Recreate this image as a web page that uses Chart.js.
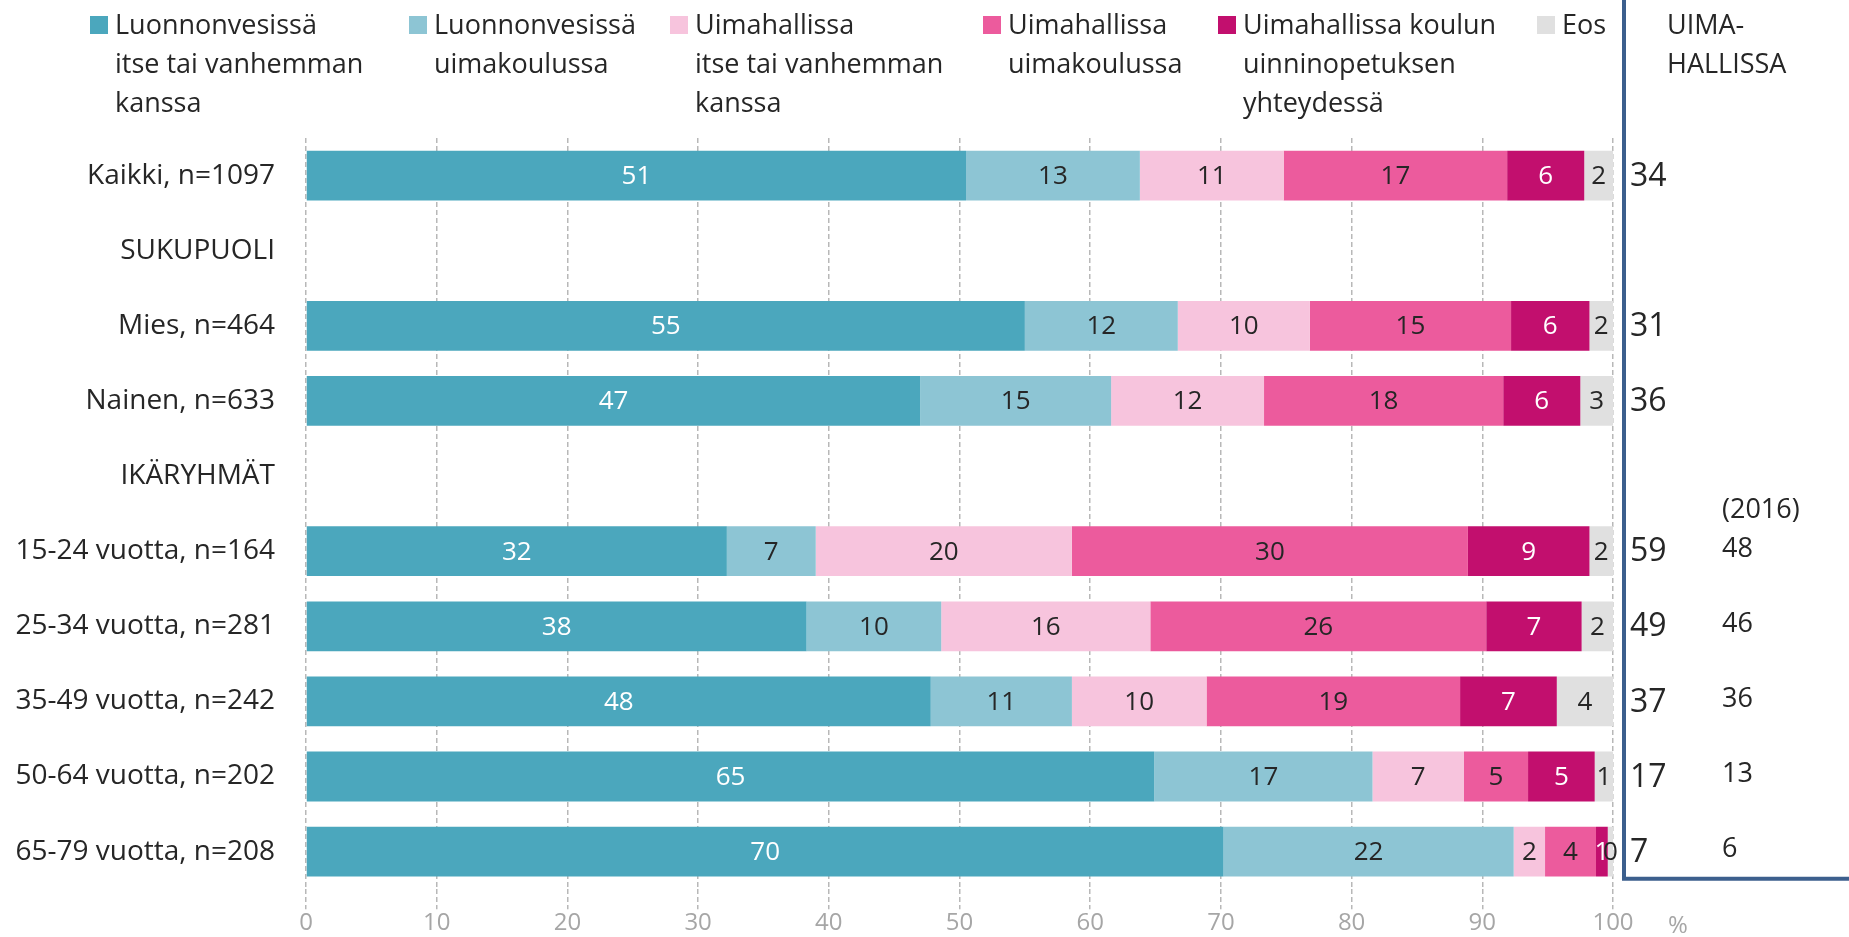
<!DOCTYPE html>
<html lang="fi">
<head>
<meta charset="utf-8">
<title>Uimataidon oppiminen</title>
<script src="https://cdn.jsdelivr.net/npm/chart.js@4.4.1/dist/chart.umd.min.js"></script>
<style>
  html, body { margin: 0; padding: 0; background: #FFFFFF; overflow: hidden; }
  #wrap { width: 1849px; height: 937px; }
  #swim-chart { display: block; }
</style>
</head>
<body>
<div id="wrap"><canvas id="swim-chart" width="1849" height="937"></canvas></div>
<script>
/* ============================================================
   Missä uimataito opittu — 100 % stacked horizontal bars
   ------------------------------------------------------------
   Six segments per row, two header rows (SUKUPUOLI, IKÄRYHMÄT)
   with no bars. Right of the framed line: share learned in a
   swimming hall, plus the 2016 comparison for age groups.
   ============================================================ */
(function () {
  'use strict';

  // ---- Data -----------------------------------------------
  const CATEGORIES = [
    'Kaikki, n=1097', 'SUKUPUOLI', 'Mies, n=464', 'Nainen, n=633', 'IKÄRYHMÄT',
    '15-24 vuotta, n=164', '25-34 vuotta, n=281', '35-49 vuotta, n=242',
    '50-64 vuotta, n=202', '65-79 vuotta, n=208'
  ];

  const SERIES_NAMES = [
    ['Luonnonvesissä', 'itse tai vanhemman', 'kanssa'],
    ['Luonnonvesissä', 'uimakoulussa'],
    ['Uimahallissa', 'itse tai vanhemman', 'kanssa'],
    ['Uimahallissa', 'uimakoulussa'],
    ['Uimahallissa koulun', 'uinninopetuksen', 'yhteydessä'],
    ['Eos']
  ];

  const NATURE_SELF   = [50.5, null, 55.0, 47.0, null, 32.2, 38.3, 47.8, 64.9, 70.2];
  const NATURE_SCHOOL = [13.3, null, 11.7, 14.6, null,  6.8, 10.3, 10.8, 16.7, 22.2];
  const HALL_SELF     = [11.0, null, 10.1, 11.7, null, 19.6, 16.0, 10.3,  7.0,  2.4];
  const HALL_SCHOOL   = [17.1, null, 15.4, 18.3, null, 30.3, 25.7, 19.4,  4.9,  3.9];
  const HALL_LESSONS  = [ 5.9, null,  6.0,  5.9, null,  9.3,  7.3,  7.4,  5.1,  0.9];
  const DONT_KNOW     = [ 2.2, null,  1.8,  2.5, null,  1.8,  2.4,  4.3,  1.4,  0.4];

  const HALL_TOTAL    = [34, null, 31, 36, null, 59, 49, 37, 17, 7];
  const HALL_2016     = [null, null, null, null, null, 48, 46, 36, 13, 6];

  const X_TICKS = [0, 10, 20, 30, 40, 50, 60, 70, 80, 90, 100];
  const SIDE_TITLE = ['UIMA-', 'HALLISSA'];
  const YEAR_TITLE = '(2016)';
  const UNIT = '%';

  // ---- Styles ---------------------------------------------
  const FONT = "'Open Sans', 'Noto Sans', sans-serif";
  const TEXT = '#262626';
  const AXIS_GRAY = '#A6A6A6';
  const GRID_GRAY = '#B8B8B8';
  const FRAME = '#3C5F8D';
  const COLORS = ['#4BA7BD', '#8DC5D4', '#F7C4DD', '#EC5B9D', '#C20F6E', '#E0E0E0'];
  const LABEL_COLORS = ['#FFFFFF', TEXT, TEXT, TEXT, '#FFFFFF', TEXT];
  const LEGEND_BOX_X = [90, 409, 670, 983, 1218, 1537];

  const seriesValues = [NATURE_SELF, NATURE_SCHOOL, HALL_SELF, HALL_SCHOOL, HALL_LESSONS, DONT_KNOW];

  Chart.defaults.font.family = FONT;
  Chart.defaults.color = TEXT;

  // ---- Custom drawing: legend, segment labels, side column --
  const overlay = {
    id: 'overlay',
    afterDatasetsDraw(chart) {
      const ctx = chart.ctx;
      ctx.save();
      ctx.font = '26px ' + FONT;
      ctx.textAlign = 'center';
      ctx.textBaseline = 'middle';
      chart.data.datasets.forEach((ds, di) => {
        const meta = chart.getDatasetMeta(di);
        meta.data.forEach((bar, i) => {
          const v = ds.data[i];
          if (v === null || v === undefined) return;
          ctx.fillStyle = LABEL_COLORS[di];
          ctx.fillText(String(Math.round(v)), (bar.base + bar.x) / 2, bar.y + 1);
        });
      });
      ctx.restore();
    },
    afterDraw(chart) {
      const ctx = chart.ctx;
      const area = chart.chartArea;
      const yScale = chart.scales.y;
      const xScale = chart.scales.x;
      ctx.save();

      // legend
      ctx.font = '27px ' + FONT;
      ctx.textAlign = 'left';
      ctx.textBaseline = 'alphabetic';
      SERIES_NAMES.forEach((lines, i) => {
        const bx = LEGEND_BOX_X[i];
        ctx.fillStyle = COLORS[i];
        ctx.fillRect(bx, 16, 18, 18);
        ctx.fillStyle = TEXT;
        lines.forEach((line, li) => ctx.fillText(line, bx + 25, 34 + li * 39));
      });

      // frame around the side column
      const frameX = area.right + 11;
      const frameBottom = yScale.getPixelForValue(CATEGORIES.length - 1) + 27;
      ctx.strokeStyle = FRAME;
      ctx.lineWidth = 4;
      ctx.lineJoin = 'miter';
      ctx.beginPath();
      ctx.moveTo(frameX, 0);
      ctx.lineTo(frameX, frameBottom);
      ctx.lineTo(chart.width, frameBottom);
      ctx.stroke();

      // side column title
      ctx.fillStyle = TEXT;
      SIDE_TITLE.forEach((line, li) => ctx.fillText(line, frameX + 43, 34 + li * 39));

      // side column values
      ctx.textBaseline = 'middle';
      HALL_TOTAL.forEach((v, i) => {
        if (v === null) return;
        ctx.font = '32px ' + FONT;
        ctx.fillText(String(v), frameX + 6, yScale.getPixelForValue(i) + 1);
      });
      let firstYear = -1;
      HALL_2016.forEach((v, i) => {
        if (v === null) return;
        if (firstYear < 0) firstYear = i;
        ctx.font = '27px ' + FONT;
        ctx.fillText(String(v), frameX + 98, yScale.getPixelForValue(i) - 2);
      });
      if (firstYear >= 0) {
        ctx.font = '27px ' + FONT;
        ctx.fillText(YEAR_TITLE, frameX + 98, yScale.getPixelForValue(firstYear) - 41);
      }

      // unit after the x ticks
      ctx.font = '24px ' + FONT;
      ctx.fillStyle = AXIS_GRAY;
      ctx.textAlign = 'center';
      ctx.fillText(UNIT, xScale.getPixelForValue(100) + 65, 926);
      ctx.restore();
    }
  };

  // ---- Chart init -----------------------------------------
  const canvas = document.getElementById('swim-chart');
  const chart = new Chart(canvas.getContext('2d'), {
    type: 'bar',
    data: {
      labels: CATEGORIES,
      datasets: seriesValues.map((vals, i) => ({
        label: SERIES_NAMES[i].join(' '),
        data: vals,
        backgroundColor: COLORS[i],
        borderWidth: 0,
        categoryPercentage: 1,
        barPercentage: 0.663
      }))
    },
    options: {
      indexAxis: 'y',
      responsive: false,
      animation: false,
      layout: { padding: { top: 138, right: 236, bottom: 0, left: 0 } },
      plugins: {
        legend: { display: false },
        tooltip: { enabled: false }
      },
      scales: {
        x: {
          stacked: true,
          min: 0,
          max: 100,
          afterBuildTicks: scale => { scale.ticks = X_TICKS.map(v => ({ value: v })); },
          afterFit: scale => { scale.height = 44; },
          grid: {
            color: GRID_GRAY,
            lineWidth: 1.5,
            drawTicks: true,
            tickLength: 20,
            tickColor: GRID_GRAY,
            tickWidth: 1.5,
            tickBorderDash: [5, 3]
          },
          border: { display: false, dash: [5, 3] },
          ticks: {
            color: AXIS_GRAY,
            font: { size: 24 },
            padding: 0,
            maxRotation: 0
          }
        },
        y: {
          stacked: true,
          afterFit: scale => { scale.width = 306; },
          grid: { display: false, drawTicks: false },
          border: { display: false },
          ticks: {
            color: TEXT,
            font: { size: 28 },
            padding: 31,
            autoSkip: false
          }
        }
      }
    },
    plugins: [overlay]
  });
})();
</script>
</body>
</html>
